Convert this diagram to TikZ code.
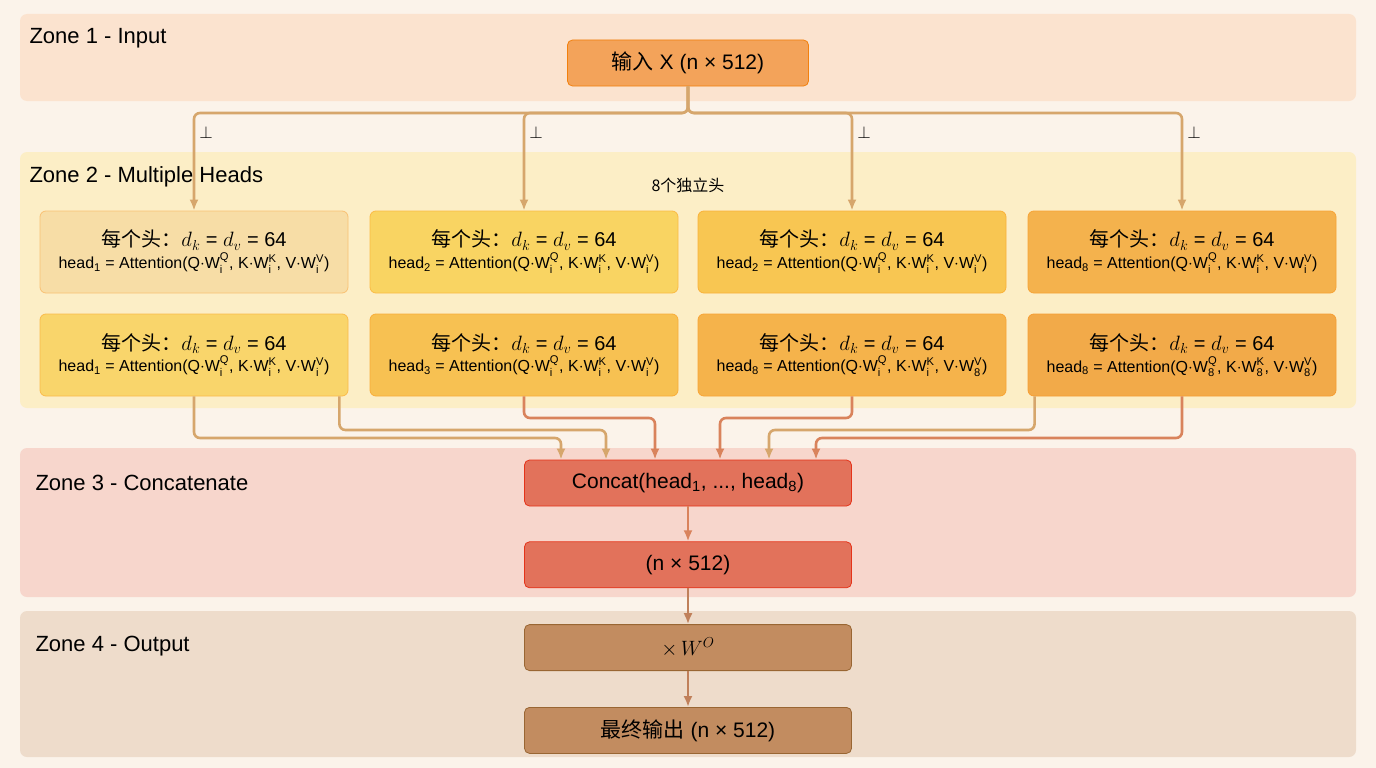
\documentclass[tikz,border=0pt]{standalone}
\usepackage{amsmath}
\usepackage{fontspec}
\setmainfont{Liberation Sans}
\newfontfamily\cjk{Noto Sans CJK SC}
\usepackage{tikz}
\usetikzlibrary{positioning,calc,arrows.meta}

\definecolor{bgpaper}{HTML}{FBF3EA}
\definecolor{zoneA}{HTML}{FBE3CF}
\definecolor{zoneB}{HTML}{FCEEC6}
\definecolor{zoneC}{HTML}{F7D6CC}
\definecolor{zoneD}{HTML}{EEDCCB}
\definecolor{inorange}{HTML}{F3A35A}
\definecolor{concatred}{HTML}{E2725B}
\definecolor{outbrown}{HTML}{C28C60}
\definecolor{linetan}{HTML}{D6A66C}
\definecolor{lineorange}{HTML}{D9835C}
\definecolor{linebrown}{HTML}{C0805A}

% one head box: subscript of head, then of W^Q, W^K, W^V
\newcommand{\headtxt}[4]{{\cjk\fontsize{20}{22}\selectfont 每个头：}{\fontsize{20}{22}\selectfont$d_k$ = $d_v$ = 64}\\[2pt]
  {\fontsize{16}{18}\selectfont head\textsubscript{#1} = Attention(Q$\cdot\text{W}^{\text{Q}}_{\text{#2}}$, K$\cdot\text{W}^{\text{K}}_{\text{#3}}$, V$\cdot\text{W}^{\text{V}}_{\text{#4}}$)}}

\begin{document}
\begin{tikzpicture}[x=1pt,y=-1pt,>={Latex[length=11pt,width=9pt]},
  zone/.style={rounded corners=7pt,draw=none},
  zonelabel/.style={anchor=west,font=\fontsize{22}{24}\selectfont},
  flowbox/.style={draw,rounded corners=5pt,minimum width=327pt,minimum height=46pt,
    font=\fontsize{21}{24}\selectfont,line width=0.8pt},
  headbox/.style={draw=#1!70!orange,fill=#1,rounded corners=6pt,minimum width=308pt,
    minimum height=82pt,align=center,line width=0.8pt},
  link/.style={line width=2.6pt,rounded corners=6pt,->}]
\useasboundingbox (0,0) rectangle (1376,768);
\fill[bgpaper] (0,0) rectangle (1376,768);
% zones
\fill[zone,zoneA] (20,14) rectangle (1356,101);
\fill[zone,zoneB] (20,152) rectangle (1356,408);
\fill[zone,zoneC] (20,448) rectangle (1356,597);
\fill[zone,zoneD] (20,611) rectangle (1356,757);
\node[zonelabel] (zl1) at (26,38) {Zone 1 - Input};
\node[zonelabel] (zl2) at (26,177) {Zone 2 - Multiple Heads};
\node[zonelabel] (zl3) at (32,483) {Zone 3 - Concatenate};
\node[zonelabel] (zl4) at (32,646) {Zone 4 - Output};

% main flow
\node[flowbox,draw=orange!80!brown,fill=inorange,minimum width=241pt] (in) at (688,63)
  {{\cjk 输入} X (n × 512)};
\node[flowbox,draw=red!60!brown,fill=concatred] (cc) at (688,483)
  {Concat(head\textsubscript{1}, ..., head\textsubscript{8})};
\node[flowbox,draw=red!60!brown,fill=concatred,below=35pt of cc] (nd) {(n × 512)};
\node[flowbox,draw=brown!80!black,fill=outbrown,below=36pt of nd] (wo) {$\times\,W^O$};
\node[flowbox,draw=brown!80!black,fill=outbrown,below=36pt of wo] (fin)
  {{\cjk 最终输出} (n × 512)};
\node[font=\cjk\fontsize{16}{18}\selectfont] (cnt) at (688,185) {8个独立头};

% heads
\foreach \n/\x/\y/\c/\a/\b/\e/\f in {
  h11/194/252/F7DDA6/1/i/i/i, h12/524/252/F9D462/2/i/i/i,
  h13/852/252/F8C652/2/i/i/i, h14/1182/252/F4B24D/8/i/i/i,
  h21/194/355/F9D56B/1/i/i/i, h22/524/355/F7C152/3/i/i/i,
  h23/852/355/F5B34B/8/i/i/8, h24/1182/355/F2AA49/8/8/8/8} {
  \definecolor{hc}{HTML}{\c}
  \node[headbox=hc] (\n) at (\x,\y) {\headtxt{\a}{\b}{\e}{\f}};
}

% fan out
\coordinate (split) at (688,113);
\foreach \n in {h11,h12,h13,h14} {
  \draw[link,linetan] (in.south) |- (split) -| (\n.north);
  \node[font=\fontsize{16}{18}\selectfont] at ($(\n.north)+(12,-78)$) {$\perp$};
}

% gather
\draw[link,linetan] (h21.south) |- (300,438) -| ($(cc.north)+(-127,0)$);
\draw[link,linetan] ($(h21.south east)+(-9,0)$) |- (450,430) -| ($(cc.north)+(-82,0)$);
\draw[link,lineorange] (h22.south) |- (600,418) -| ($(cc.north)+(-33,0)$);
\draw[link,lineorange] (h23.south) |- (760,418) -| ($(cc.north)+(32,0)$);
\draw[link,linetan] ($(h24.south west)+(7,0)$) |- (900,430) -| ($(cc.north)+(81,0)$);
\draw[link,lineorange] (h24.south) |- (1000,438) -| ($(cc.north)+(128,0)$);

\draw[link,lineorange] (cc) -- (nd);
\draw[link,linebrown] (nd) -- (wo);
\draw[link,linebrown] (wo) -- (fin);
\end{tikzpicture}
\end{document}
